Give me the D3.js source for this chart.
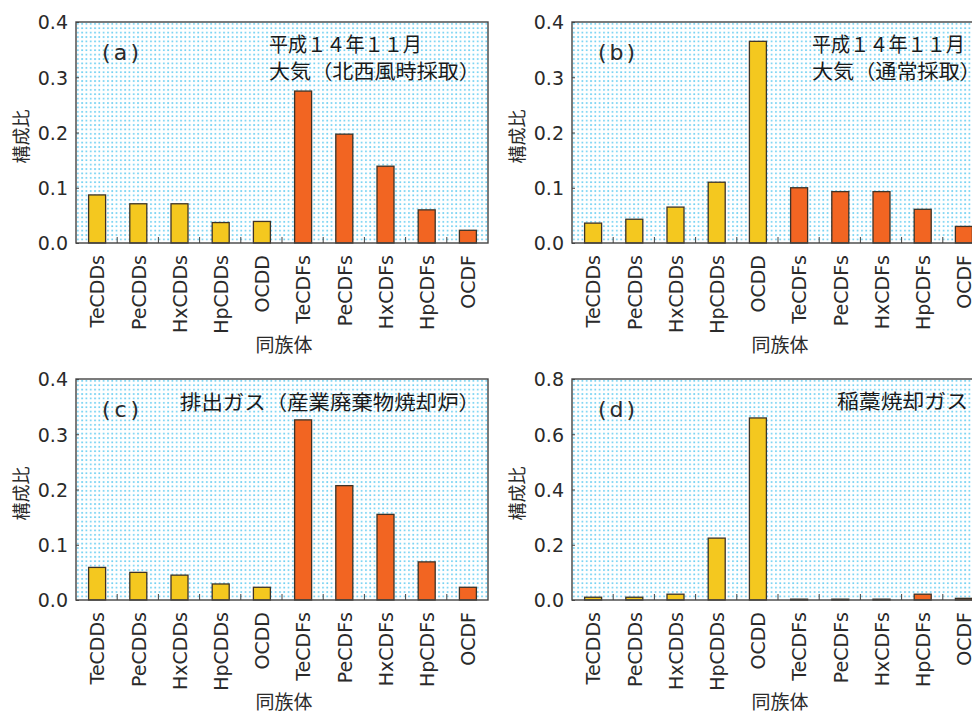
<!DOCTYPE html>
<html>
<head>
<meta charset="utf-8">
<script src="https://cdn.jsdelivr.net/npm/d3@7"></script>
<style>
  html, body { margin: 0; padding: 0; background: #fff; }
  svg { display: block; }
</style>
</head>
<body>
<svg id="chart" width="972" height="711"></svg>
<script>
// Congener groups along the x axis
const congeners = ["TeCDDs", "PeCDDs", "HxCDDs", "HpCDDs", "OCDD",
                   "TeCDFs", "PeCDFs", "HxCDFs", "HpCDFs", "OCDF"];
// PCDD groups are drawn yellow, PCDF groups orange
const congenerKind = ["dd", "dd", "dd", "dd", "dd", "df", "df", "df", "df", "df"];

// Composition ratio per congener group, one array per panel
const ratiosA = [0.087, 0.071, 0.071, 0.037, 0.039, 0.275, 0.197, 0.139, 0.060, 0.023];
const ratiosB = [0.036, 0.043, 0.065, 0.110, 0.365, 0.100, 0.093, 0.093, 0.061, 0.030];
const ratiosC = [0.059, 0.050, 0.045, 0.029, 0.023, 0.326, 0.207, 0.155, 0.069, 0.023];
const ratiosD = [0.010, 0.010, 0.021, 0.224, 0.659, 0.003, 0.003, 0.003, 0.021, 0.006];

// Y axis tick values per panel
const ticksSmall = [0, 0.1, 0.2, 0.3, 0.4];
const ticksLarge = [0, 0.2, 0.4, 0.6, 0.8];

// Panel captions
const labelsABCD = ["(a)", "(b)", "(c)", "(d)"];
const notesA = ["平成１４年１１月", "大気（北西風時採取）"];
const notesB = ["平成１４年１１月", "大気（通常採取）"];
const notesC = ["排出ガス（産業廃棄物焼却炉）"];
const notesD = ["稲藁焼却ガス"];

const yTitle = "構成比";
const xTitle = "同族体";

const svg = d3.select("#chart");
const fillColor = { dd: "#f4c81f", df: "#f26522" };
const latin = "'DejaVu Sans', sans-serif";
const cjk = "'Noto Sans CJK JP', sans-serif";

// Dotted cyan background used inside every plot area
const defs = svg.append("defs");
const pat = defs.append("pattern")
  .attr("id", "dots")
  .attr("patternUnits", "userSpaceOnUse")
  .attr("width", 4.3).attr("height", 4.4);
pat.append("rect").attr("x", 1).attr("y", 1)
  .attr("width", 1.7).attr("height", 1.7)
  .attr("fill", "#6fd0f2");

const panels = [
  { x: 76,  y: 22,  data: ratiosA, ticks: ticksSmall, max: 0.4, tag: labelsABCD[0],
    notes: notesA, noteX: 269, noteY: [45, 72], noteLen: [153, 211],
    ytx: 22, xty: 352 },
  { x: 572, y: 22,  data: ratiosB, ticks: ticksSmall, max: 0.4, tag: labelsABCD[1],
    notes: notesB, noteX: 812, noteY: [45, 72], noteLen: [153, 169],
    ytx: 518, xty: 352 },
  { x: 76,  y: 379, data: ratiosC, ticks: ticksSmall, max: 0.4, tag: labelsABCD[2],
    notes: notesC, noteX: 180, noteY: [403], noteLen: [300],
    ytx: 22, xty: 709 },
  { x: 572, y: 379, data: ratiosD, ticks: ticksLarge, max: 0.8, tag: labelsABCD[3],
    notes: notesD, noteX: 837, noteY: [402], noteLen: [131],
    ytx: 518, xty: 709 }
];

const W = 412, H = 221;

panels.forEach(p => {
  const g = svg.append("g").attr("transform", `translate(${p.x},${p.y})`);

  const xb = d3.scaleBand().domain(congeners).range([0, W]);
  const y = d3.scaleLinear().domain([0, p.max]).range([H, 0]);

  // plot background
  g.append("rect").attr("width", W).attr("height", H).attr("fill", "#fff");
  g.append("rect").attr("width", W).attr("height", H).attr("fill", "url(#dots)");

  // bars
  g.selectAll("rect.bar")
    .data(p.data.map((v, i) => ({ name: congeners[i], v, kind: congenerKind[i] })))
    .join("rect")
    .attr("class", "bar")
    .attr("x", d => xb(d.name) + (xb.bandwidth() - 17) / 2 + 0.5)
    .attr("width", 17)
    .attr("y", d => y(d.v))
    .attr("height", d => H - y(d.v))
    .attr("fill", d => fillColor[d.kind])
    .attr("stroke", "#3d3328")
    .attr("stroke-width", 1.3);

  // inward ticks on the bottom axis at category boundaries
  const boundaries = congeners.slice(1).map(c => xb(c));
  g.selectAll("line.xt").data(boundaries).join("line")
    .attr("class", "xt")
    .attr("x1", d => d).attr("x2", d => d)
    .attr("y1", H).attr("y2", H - 6)
    .attr("stroke", "#444").attr("stroke-width", 1);

  // frame
  g.append("rect").attr("width", W).attr("height", H)
    .attr("fill", "none").attr("stroke", "#444").attr("stroke-width", 1.4);

  // y axis: inward ticks plus labels
  const yAxis = d3.axisLeft(y).tickValues(p.ticks).tickSizeInner(-3).tickSizeOuter(0)
    .tickFormat(d3.format(".1f")).tickPadding(8);
  const ya = g.append("g").call(yAxis);
  ya.select(".domain").remove();
  ya.selectAll(".tick line").attr("stroke", "#444");
  ya.selectAll(".tick text")
    .attr("font-family", latin).attr("font-size", 19)
    .attr("fill", "#2a2a2a").attr("dy", "0.36em");

  // x axis category labels, rotated
  const xAxis = d3.axisBottom(xb).tickSize(0).tickPadding(0);
  const xa = g.append("g").attr("transform", `translate(0,${H})`).call(xAxis);
  xa.select(".domain").remove();
  xa.selectAll(".tick text")
    .attr("font-family", latin).attr("font-size", 19).attr("fill", "#2a2a2a")
    .attr("text-anchor", "end")
    .attr("transform", "translate(1,12) rotate(-90)")
    .attr("x", 0).attr("y", 0).attr("dy", "0.36em");

  // panel tag
  g.append("text")
    .attr("x", 26).attr("y", 30).attr("dy", "0.36em")
    .attr("font-family", latin).attr("font-size", 22).attr("fill", "#2a2a2a")
    .attr("textLength", 37).attr("lengthAdjust", "spacing")
    .text(p.tag);

  // notes
  p.notes.forEach((t, i) => {
    svg.append("text")
      .attr("x", p.noteX).attr("y", p.noteY[i]).attr("dy", "0.36em")
      .attr("font-family", cjk).attr("font-size", 20).attr("fill", "#1a1a1a")
      .attr("textLength", p.noteLen[i]).attr("lengthAdjust", "spacingAndGlyphs")
      .text(t);
  });

  // axis titles
  svg.append("text")
    .attr("transform", `translate(${p.ytx},${p.y + H / 2 + 4}) rotate(-90)`)
    .attr("text-anchor", "middle").attr("dy", "0.36em")
    .attr("font-family", cjk).attr("font-size", 18).attr("fill", "#2a2a2a")
    .text(yTitle);
  svg.append("text")
    .attr("x", p.x + W / 2 + 2).attr("y", p.xty)
    .attr("text-anchor", "middle")
    .attr("font-family", cjk).attr("font-size", 19).attr("fill", "#2a2a2a")
    .text(xTitle);
});
</script>
</body>
</html>
